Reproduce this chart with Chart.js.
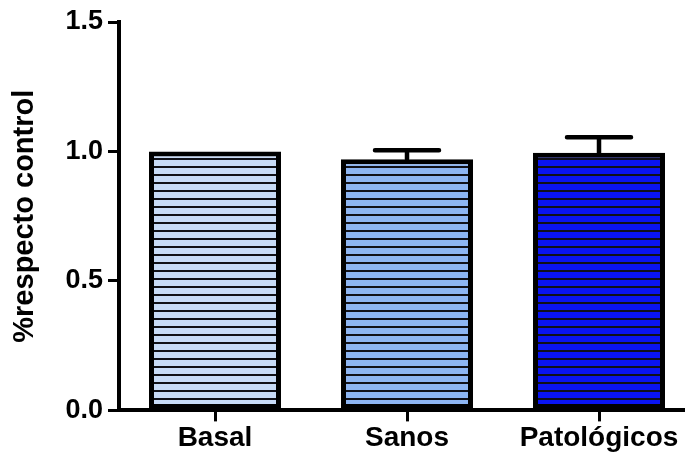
<!DOCTYPE html>
<html>
<head>
<meta charset="utf-8">
<script src="https://cdn.jsdelivr.net/npm/chart.js@4"></script>
<style>
  html, body { margin: 0; padding: 0; background: #fff; overflow: hidden; }
  #wrap { width: 695px; height: 455px; }
</style>
</head>
<body>
<div id="wrap"><canvas id="bars" width="695" height="455"></canvas></div>
<script>
const groups = ["Basal", "Sanos", "Patológicos"];
const meanValues = [1.0, 0.97, 0.995];
const semValues = [0, 0.035, 0.06];
const fillColors = ["#c8dbf7", "#8db5f2", "#0a14f2"];
const yTickLabels = ["0.0", "0.5", "1.0", "1.5"];
const yTitle = "%respecto control";

const FONT = "'Liberation Sans', Arial, sans-serif";
const canvas = document.getElementById("bars");
const ctx = canvas.getContext("2d");

// striped fill: base colour with a dark horizontal rule every 8px
function hatch(color) {
  const tile = document.createElement("canvas");
  tile.width = 8; tile.height = 8;
  const g = tile.getContext("2d");
  g.fillStyle = color;
  g.fillRect(0, 0, 8, 8);
  g.fillStyle = "#111118";
  g.fillRect(0, 6, 8, 2);
  return ctx.createPattern(tile, "repeat");
}

// upper-only SEM whiskers with a flat cap
const errorBars = {
  id: "errorBars",
  afterDatasetsDraw(chart) {
    const y = chart.scales.y;
    const meta = chart.getDatasetMeta(0);
    const c = chart.ctx;
    c.save();
    c.strokeStyle = "#000";
    c.lineWidth = 4.5;
    c.lineCap = "round";
    meta.data.forEach((bar, i) => {
      if (!semValues[i]) return;
      const top = y.getPixelForValue(meanValues[i] + semValues[i]);
      c.beginPath();
      c.moveTo(bar.x, bar.y);
      c.lineTo(bar.x, top);
      c.moveTo(bar.x - 32, top);
      c.lineTo(bar.x + 32, top);
      c.stroke();
    });
    c.restore();
  },
};

new Chart(canvas, {
  type: "bar",
  data: {
    labels: groups,
    datasets: [{
      data: meanValues,
      backgroundColor: fillColors.map(hatch),
      borderColor: "#000",
      borderWidth: 5,
      borderSkipped: false,
      barPercentage: 0.6875,
      categoryPercentage: 1,
    }],
  },
  options: {
    responsive: false,
    animation: false,
    devicePixelRatio: 1,
    layout: { padding: { top: 22, left: 0, right: 0, bottom: 0 } },
    plugins: { legend: { display: false }, tooltip: { enabled: false } },
    scales: {
      x: {
        grid: { display: true, drawOnChartArea: false, offset: false, tickLength: 11, color: "#000", lineWidth: 3 },
        border: { color: "#000", width: 4 },
        ticks: { color: "#000", padding: 0, font: { family: FONT, size: 28, weight: "bold" } },
      },
      y: {
        min: 0,
        max: 1.5,
        afterFit: (s) => { s.width = 119; },
        grid: { display: true, drawOnChartArea: false, tickLength: 11, color: "#000", lineWidth: 3 },
        border: { color: "#000", width: 4 },
        ticks: {
          stepSize: 0.5,
          color: "#000",
          padding: 5,
          font: { family: FONT, size: 27, weight: "bold" },
          callback: (v, i) => yTickLabels[i],
        },
        title: {
          display: true,
          text: yTitle,
          color: "#000",
          padding: { top: 8, bottom: 0 },
          font: { family: FONT, size: 29, weight: "bold" },
        },
      },
    },
  },
  plugins: [errorBars],
});
</script>
</body>
</html>
